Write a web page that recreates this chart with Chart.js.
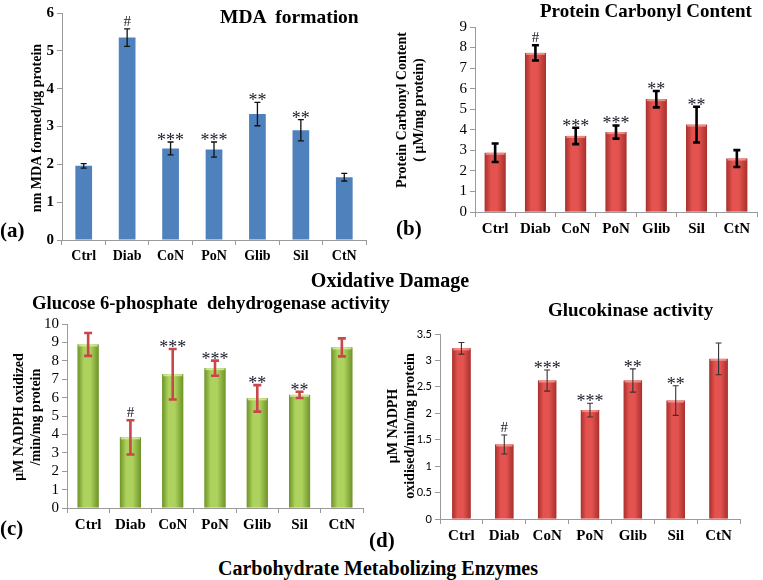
<!DOCTYPE html>
<html>
<head>
<meta charset="utf-8">
<script src="https://cdn.jsdelivr.net/npm/chart.js@4"></script>
<style>
  body { margin: 0; background: #fff; width: 763px; height: 580px; position: relative; overflow: hidden;
         font-family: "Liberation Serif", "Times New Roman", serif; font-weight: bold; color: #000; }
  canvas { position: absolute; }
  .t { position: absolute; white-space: pre; line-height: 1; transform: translateY(-50%); }
  .c { position: absolute; white-space: pre; line-height: 1; transform: translate(-50%, -50%); }
  .rot { position: absolute; white-space: pre; line-height: 1.2; text-align: center;
         transform: translate(-50%, -50%) rotate(-90deg); }
</style>
</head>
<body>
<canvas id="mdaChart" width="380" height="275" style="left:0;top:0"></canvas>
<canvas id="carbonylChart" width="383" height="250" style="left:380px;top:0"></canvas>
<canvas id="g6pdChart" width="380" height="255" style="left:0;top:290px"></canvas>
<canvas id="gkChart" width="383" height="265" style="left:380px;top:290px"></canvas>

<div class="t" style="left:220px;top:17px;font-size:19.5px">MDA  formation</div>
<div class="t" style="left:0;top:230px;font-size:21px">(a)</div>
<div class="rot" style="left:37px;top:128px;font-size:14px">nm MDA formed/μg protein</div>

<div class="t" style="left:540px;top:10px;font-size:19px">Protein Carbonyl Content</div>
<div class="t" style="left:396px;top:228px;font-size:21px">(b)</div>
<div class="rot" style="left:411px;top:110px;font-size:14px">Protein Carbonyl Content
( μM/mg protein)</div>

<div class="c" style="left:390px;top:280px;font-size:20px">Oxidative Damage</div>

<div class="t" style="left:32px;top:303px;font-size:18.7px">Glucose 6-phosphate  dehydrogenase activity</div>
<div class="t" style="left:0;top:528px;font-size:21px">(c)</div>
<div class="rot" style="left:28px;top:417px;font-size:14px">μM NADPH oxidized
/min/mg protein</div>

<div class="t" style="left:548px;top:309px;font-size:19px">Glucokinase activity</div>
<div class="t" style="left:369px;top:540px;font-size:21px">(d)</div>
<div class="rot" style="left:402px;top:426px;font-size:14px">μM NADPH
oxidised/min/mg protein</div>

<div class="c" style="left:378px;top:568px;font-size:20px">Carbohydrate Metabolizing Enzymes</div>

<script>
// groups and significance marks shared by all four panels
const groups = ['Ctrl', 'Diab', 'CoN', 'PoN', 'Glib', 'Sil', 'CtN'];
const sigMarks = ['', '#', '***', '***', '**', '**', ''];

// (a) MDA formation
const mdaMean = [1.96, 5.35, 2.42, 2.39, 3.33, 2.90, 1.66];
const mdaErr = [0.06, 0.23, 0.17, 0.20, 0.31, 0.28, 0.10];
const mdaTicks = [0, 1, 2, 3, 4, 5, 6];

// (b) protein carbonyl content
const carbonylMean = [2.88, 7.74, 3.70, 3.89, 5.49, 4.25, 2.60];
const carbonylErr = [0.45, 0.37, 0.40, 0.32, 0.40, 0.87, 0.41];
const carbonylTicks = [0, 1, 2, 3, 4, 5, 6, 7, 8, 9];

// (c) glucose 6-phosphate dehydrogenase activity
const g6pdMean = [8.89, 3.84, 7.27, 7.60, 5.96, 6.15, 8.73];
const g6pdErr = [0.62, 0.93, 1.37, 0.41, 0.72, 0.17, 0.49];
const g6pdTicks = [0, 1, 2, 3, 4, 5, 6, 7, 8, 9, 10];

// (d) glucokinase activity
const gkMean = [3.23, 1.41, 2.62, 2.06, 2.62, 2.24, 3.03];
const gkErr = [0.11, 0.18, 0.20, 0.13, 0.22, 0.28, 0.30];
const gkTicks = [0, 0.5, 1, 1.5, 2, 2.5, 3, 3.5];

const serif = '"Liberation Serif", "Times New Roman", serif';

// shading, error bars and marks drawn over the library's bars
const barDeco = {
  id: 'barDeco',
  afterDatasetsDraw(chart) {
    const ctx = chart.ctx;
    const ds = chart.data.datasets[0];
    const st = ds.deco;
    const yScale = chart.scales.y;
    ctx.save();
    chart.getDatasetMeta(0).data.forEach((bar, i) => {
      const left = bar.x - bar.width / 2;
      const w = bar.width;
      const h = bar.base - bar.y;
      if (st.shade) {
        const g = ctx.createLinearGradient(left, 0, left + w, 0);
        g.addColorStop(0, st.shade[0]);
        g.addColorStop(0.3, st.shade[1]);
        g.addColorStop(0.6, st.shade[1]);
        g.addColorStop(1, st.shade[0]);
        ctx.fillStyle = g;
        ctx.fillRect(left, bar.y, w, h);
        ctx.fillStyle = st.shade[2];
        ctx.fillRect(left + 1, bar.y, w - 2, 2);
      }
      const v = ds.data[i], e = ds.errors[i];
      const hi = yScale.getPixelForValue(v + e);
      const lo = yScale.getPixelForValue(v - e);
      ctx.strokeStyle = st.errColor;
      ctx.lineWidth = st.errWidth;
      ctx.beginPath();
      ctx.moveTo(bar.x, hi); ctx.lineTo(bar.x, lo);
      ctx.moveTo(bar.x - st.cap, hi); ctx.lineTo(bar.x + st.cap, hi);
      ctx.moveTo(bar.x - st.cap, lo); ctx.lineTo(bar.x + st.cap, lo);
      ctx.stroke();
      const mark = sigMarks[i];
      if (mark) {
        ctx.fillStyle = '#1b1b2a';
        ctx.textAlign = 'center';
        ctx.textBaseline = 'alphabetic';
        if (mark === '#') {
          ctx.font = '15px ' + serif;
          ctx.fillText(mark, bar.x, hi - 3);
        } else {
          ctx.font = '18px ' + serif;
          ctx.fillText(mark, bar.x, hi + 4);
        }
      }
    });
    ctx.restore();
  }
};

function makePanel(cfg) {
  return new Chart(document.getElementById(cfg.id), {
    type: 'bar',
    data: {
      labels: groups,
      datasets: [{
        data: cfg.values,
        errors: cfg.errors,
        deco: cfg.deco,
        backgroundColor: cfg.color,
        borderColor: cfg.border || cfg.color,
        borderWidth: cfg.border ? 1 : 0,
        barPercentage: cfg.barPct,
        categoryPercentage: 1
      }]
    },
    options: {
      responsive: false,
      animation: false,
      devicePixelRatio: 1,
      layout: { padding: cfg.pad },
      plugins: { legend: { display: false }, tooltip: { enabled: false } },
      scales: {
        x: {
          grid: { drawOnChartArea: false, tickLength: 5, color: '#9a9a9a' },
          border: { color: '#9a9a9a' },
          ticks: { color: '#000', font: { family: serif, size: cfg.xFont, weight: 'bold' }, padding: 3, maxRotation: 0, autoSkip: false },
          afterFit: s => { s.height = cfg.xh; }
        },
        y: {
          min: 0,
          max: cfg.ticks[cfg.ticks.length - 1],
          afterBuildTicks: s => { s.ticks = cfg.ticks.map(v => ({ value: v })); },
          grid: { drawOnChartArea: false, tickLength: 5, color: '#9a9a9a' },
          border: { color: '#9a9a9a' },
          ticks: { color: '#000', font: cfg.yFont, padding: 3, autoSkip: false, callback: v => String(v) },
          afterFit: s => { s.width = cfg.yw; }
        }
      }
    },
    plugins: [barDeco]
  });
}

makePanel({
  id: 'mdaChart', values: mdaMean, errors: mdaErr, ticks: mdaTicks,
  color: '#4F81BD', barPct: 0.385,
  deco: { errColor: '#111', errWidth: 1.3, cap: 3 },
  pad: { left: 0, top: 13, right: 14, bottom: 5 }, yw: 62, xh: 30,
  xFont: 14, yFont: { family: serif, size: 15, weight: 'bold' }
});

makePanel({
  id: 'carbonylChart', values: carbonylMean, errors: carbonylErr, ticks: carbonylTicks,
  color: '#D9433F', border: '#B5302D', barPct: 0.52,
  deco: { errColor: '#000', errWidth: 2.6, cap: 3.5, shade: ['#A8302C', '#E4534F', 'rgba(255,170,165,0.7)'] },
  pad: { left: 0, top: 27, right: 6, bottom: 8 }, yw: 95, xh: 30,
  xFont: 15, yFont: { family: serif, size: 15 }
});

makePanel({
  id: 'g6pdChart', values: g6pdMean, errors: g6pdErr, ticks: g6pdTicks,
  color: '#9CC64A', border: '#86AD3A', barPct: 0.5,
  deco: { errColor: '#C9474A', errWidth: 2.6, cap: 4, shade: ['#6E9328', '#ADD35E', 'rgba(220,240,170,0.8)'] },
  pad: { left: 0, top: 34, right: 17, bottom: 7 }, yw: 67, xh: 30,
  xFont: 15, yFont: { family: serif, size: 15 }
});

makePanel({
  id: 'gkChart', values: gkMean, errors: gkErr, ticks: gkTicks,
  color: '#D9433F', border: '#B5302D', barPct: 0.43,
  deco: { errColor: '#333', errWidth: 1.1, cap: 3, shade: ['#A8302C', '#E4534F', 'rgba(255,170,165,0.7)'] },
  pad: { left: 0, top: 44, right: 23, bottom: 4 }, yw: 60, xh: 32,
  xFont: 15, yFont: { family: 'Lato, "Open Sans", sans-serif', size: 11 }
});
</script>
</body>
</html>
